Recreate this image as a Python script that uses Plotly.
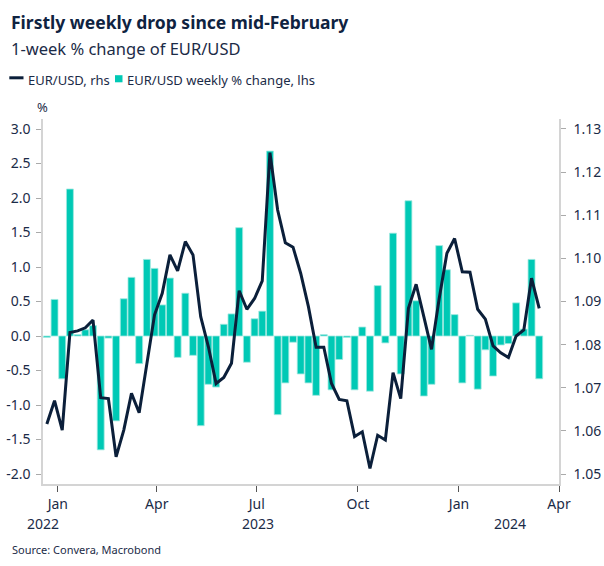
import plotly.graph_objects as go
import pandas as pd

# ---- data ----
start_date = "2022-12-22"
n_weeks = 65
dates = pd.date_range(start_date, periods=n_weeks, freq="7D")

weekly_pct = [
    -0.02, 0.53, -0.62, 2.13, 0.02, 0.09, 0.15, -1.65, -0.03, -1.23,
    0.54, 0.85, -0.40, 1.11, 0.98, 0.45, 0.84, -0.31, 0.62, -0.28,
    -1.30, -0.70, -0.74, 0.17, 0.32, 1.57, -0.38, 0.25, 0.36, 2.68,
    -1.14, -0.68, -0.09, -0.55, -0.68, -0.86, 0.02, -0.78, -0.34, -0.02,
    -0.78, 0.13, -0.80, 0.73, -0.10, 1.49, -0.55, 1.96, 0.51, -0.87,
    -0.70, 1.31, 0.96, 0.31, -0.68, 0.01, -0.77, -0.20, -0.58, -0.13,
    -0.11, 0.48, 0.10, 1.11, -0.62,
]

eurusd = [
    1.0616, 1.0670, 1.0602, 1.0828, 1.0832, 1.0839, 1.0857, 1.0677, 1.0675, 1.0540,
    1.0602, 1.0687, 1.0642, 1.0757, 1.0869, 1.0919, 1.1008, 1.0971, 1.1039, 1.1008,
    1.0865, 1.0795, 1.0710, 1.0724, 1.0757, 1.0925, 1.0882, 1.0907, 1.0948, 1.1245,
    1.1112, 1.1036, 1.1026, 1.0965, 1.0888, 1.0794, 1.0794, 1.0710, 1.0673, 1.0670,
    1.0587, 1.0598, 1.0513, 1.0590, 1.0579, 1.0735, 1.0675, 1.0884, 1.0940, 1.0865,
    1.0789, 1.0907, 1.1012, 1.1046, 1.0969, 1.0968, 1.0882, 1.0859, 1.0797, 1.0781,
    1.0770, 1.0820, 1.0834, 1.0954, 1.0884,
]

x_tick_vals = ["2023-01-01", "2023-04-01", "2023-07-01", "2023-10-01", "2024-01-01", "2024-04-01"]
x_tick_text = ["Jan", "Apr", "Jul", "Oct", "Jan", "Apr"]
year_labels = ["2022", "2023", "2024"]

left_tick_vals = [3.0, 2.5, 2.0, 1.5, 1.0, 0.5, 0.0, -0.5, -1.0, -1.5, -2.0]
left_tick_text = ["3.0", "2.5", "2.0", "1.5", "1.0", "0.5", "0.0", "-0.5", "-1.0", "-1.5", "-2.0"]
right_tick_vals = [1.05, 1.06, 1.07, 1.08, 1.09, 1.10, 1.11, 1.12, 1.13]
right_tick_text = ["1.05", "1.06", "1.07", "1.08", "1.09", "1.10", "1.11", "1.12", "1.13"]

line_name = "EUR/USD, rhs"
bar_name = "EUR/USD weekly % change, lhs"

# ---- style ----
FONT = "Noto Sans"
NAVY = "#0b1f3a"
TEXT = "#1b2b47"
TEAL = "#00c9b5"
GRAY = "#d4d4d4"

W, H = 604, 566
L, R, T, B = 43, 559, 119, 484


def px(x):
    return (x - L) / (R - L)


def py(y):
    return (B - y) / (B - T)


fig = go.Figure()
fig.add_trace(go.Bar(
    x=dates, y=weekly_pct, name=bar_name,
    marker=dict(color=TEAL, line=dict(color="#9fe9df", width=0.8)),
    yaxis="y", showlegend=False,
))
fig.add_trace(go.Scatter(
    x=dates, y=eurusd, name=line_name, mode="lines",
    line=dict(color=NAVY, width=3), yaxis="y2", showlegend=False,
))

fig.update_layout(
    width=W, height=H,
    margin=dict(l=L, r=W - R, t=T, b=H - B, autoexpand=False),
    paper_bgcolor="white", plot_bgcolor="white",
    font=dict(family=FONT, color=TEXT, size=13),
    bargap=0.1,
    xaxis=dict(
        type="date", range=["2022-12-18 12:00", "2024-04-01"],
        tickvals=x_tick_vals, ticktext=x_tick_text,
        ticks="outside", ticklen=6, tickcolor="#555555", tickwidth=1,
        showline=True, linecolor=GRAY, linewidth=1.5,
        showgrid=False, zeroline=False, automargin=False,
        tickfont=dict(size=14, color=TEXT),
    ),
    yaxis=dict(
        range=[-2.145, 3.145], tickvals=left_tick_vals, ticktext=left_tick_text,
        ticks="outside", ticklen=5, tickcolor="#aaaaaa",
        ticklabelstandoff=3, automargin=False,
        showline=True, linecolor=GRAY, linewidth=1.5,
        showgrid=False, zeroline=False,
        tickfont=dict(size=14, color=TEXT),
    ),
    yaxis2=dict(
        range=[1.0477, 1.1323], tickvals=right_tick_vals, ticktext=right_tick_text,
        overlaying="y", side="right",
        ticks="outside", ticklen=5, tickcolor="#aaaaaa",
        ticklabelstandoff=5, automargin=False,
        showline=True, linecolor=GRAY, linewidth=1.5,
        showgrid=False, zeroline=False,
        tickfont=dict(size=14, color=TEXT),
    ),
)

annotations = [
    dict(text="<b>Firstly weekly drop since mid-February</b>", x=px(9), y=py(22),
         font=dict(size=17.5, color="#0f2341")),
    dict(text="1-week % change of EUR/USD", x=px(9), y=py(48),
         font=dict(size=16.5, color=TEXT)),
    dict(text=line_name, x=px(26), y=py(79.5), font=dict(size=13, color=TEXT)),
    dict(text=bar_name, x=px(125), y=py(79.5), font=dict(size=13, color=TEXT)),
    dict(text="%", x=px(35), y=py(107.5), font=dict(size=13, color=TEXT)),
    dict(text="Source: Convera, Macrobond", x=px(10), y=py(549),
         font=dict(size=11, color=TEXT)),
]
for a in annotations:
    a.update(xref="paper", yref="paper", xanchor="left", yanchor="middle",
             showarrow=False)

# year labels under the month ticks
year_pos = [42.7, 258.3, 510.0]
for lab, xp in zip(year_labels, year_pos):
    annotations.append(dict(
        text=lab, x=px(xp), xref="paper", y=py(523), yref="paper",
        xanchor="center", yanchor="middle", showarrow=False,
        font=dict(size=14, color=TEXT),
    ))

shapes = [
    dict(type="line", xref="paper", yref="paper",
         x0=px(9.3), x1=px(23.5), y0=py(77.8), y1=py(77.8),
         line=dict(color=NAVY, width=3)),
    dict(type="rect", xref="paper", yref="paper",
         x0=px(115), x1=px(122.5), y0=py(82.3), y1=py(75.2),
         fillcolor=TEAL, line=dict(width=0)),
]

fig.update_layout(annotations=annotations, shapes=shapes)
fig.write_html("out.html")
